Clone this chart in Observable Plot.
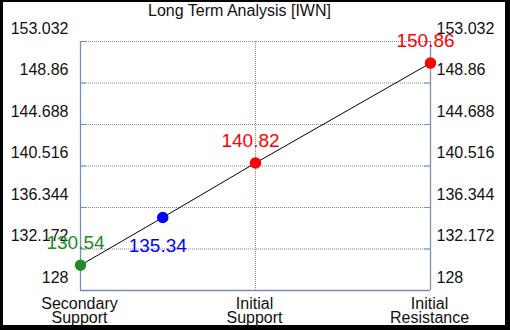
<!DOCTYPE html>
<html>
<head>
<meta charset="utf-8">
<script src="https://cdn.jsdelivr.net/npm/d3@7"></script>
<script src="https://cdn.jsdelivr.net/npm/@observablehq/plot@0.6"></script>
<style>
  html, body { margin: 0; padding: 0; background: #000; }
  #frame { width: 502px; height: 323px; padding: 2px 5px 5px 3px; background: #000; }
  #chart svg { background: #fff; display: block; }
</style>
</head>
<body>
<div id="frame"><div id="chart"></div></div>
<script>
const title = "Long Term Analysis [IWN]";
const xCategories = ["Secondary\nSupport", "Initial\nSupport", "Initial\nResistance"];
const xCategoryPos = [0, 1, 2];
const yTicks = [128, 132.172, 136.344, 140.516, 144.688, 148.86, 153.032];
const pointRoles = ["Secondary Support", "Current", "Initial Support", "Initial Resistance"];
const pointPos = [0, 0.47, 1, 2];
const pointValues = [130.54, 135.34, 140.82, 150.86];
const roleColors = ["#228b22", "#0000ff", "#ff0000", "#ff0000"];

const points = pointRoles.map((r, i) => ({role: r, x: pointPos[i], y: pointValues[i]}));
const cats = xCategories.map((c, i) => ({label: c, x: xCategoryPos[i]}));
const grid = "#7b8cb0";
const font = "Arial, 'Liberation Sans', sans-serif";
const stub = 6 / 175;

const chart = Plot.plot({
  width: 502,
  height: 323,
  marginLeft: 77,
  marginRight: 75,
  marginTop: 39,
  marginBottom: 35,
  style: {fontFamily: font, background: "#fff", overflow: "visible"},
  x: {domain: [0, 2], axis: null},
  y: {domain: [128, 153.032], axis: null},
  color: {domain: pointRoles, range: roleColors},
  marks: [
    Plot.ruleY(yTicks.slice(1), {stroke: grid, strokeDasharray: "1,1", strokeWidth: 1}),
    Plot.ruleX([1], {stroke: grid, strokeDasharray: "1,1", strokeWidth: 1}),
    Plot.ruleY(yTicks.slice(1), {x1: 0, x2: stub, stroke: grid}),
    Plot.ruleY(yTicks.slice(1), {x1: 2 - stub, x2: 2, stroke: grid}),
    Plot.ruleY([128], {stroke: grid, strokeWidth: 1.3}),
    Plot.ruleX([0, 2], {stroke: grid, strokeWidth: 1.3}),
    Plot.axisY({anchor: "left", ticks: yTicks, tickSize: 0, tickPadding: 12, dy: -13, fontSize: 16, fill: "#111", tickFormat: d => String(d), label: null}),
    Plot.axisY({anchor: "right", ticks: yTicks, tickSize: 0, tickPadding: 6, dy: -13, fontSize: 16, fill: "#111", tickFormat: d => String(d), label: null}),
    Plot.line(points, {x: "x", y: "y", stroke: "#000", strokeWidth: 1}),
    Plot.dot(points, {x: "x", y: "y", r: 5, fill: "role", stroke: "role"}),
    Plot.text(points.filter(d => d.role !== "Current"), {x: "x", y: "y", text: d => String(d.y), fill: "role", fontSize: 19, dy: -22, dx: -5}),
    Plot.text(points.filter(d => d.role === "Current"), {x: "x", y: "y", text: d => String(d.y), fill: "role", fontSize: 19, dy: 28, dx: -5}),
    Plot.text(cats, {x: "x", y: () => 128, text: "label", lineAnchor: "top", lineHeight: 0.9, dy: 8, dx: -1, fontSize: 16, fill: "#111"}),
    Plot.text([title], {frameAnchor: "top", text: d => d, lineAnchor: "bottom", dy: -26, dx: -16, fontSize: 16, fill: "#111"})
  ]
});
document.getElementById("chart").appendChild(chart);
</script>
</body>
</html>
